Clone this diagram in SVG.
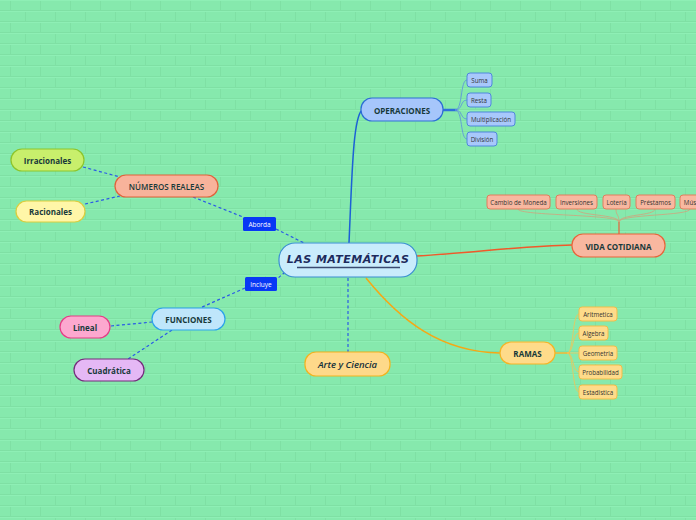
<svg xmlns="http://www.w3.org/2000/svg" width="696" height="520" viewBox="0 0 696 520">
<defs>
<pattern id="bricks" width="60" height="22" patternUnits="userSpaceOnUse">
<rect width="60" height="22" fill="#86e9ad"/>
<path d="M0 10.5H60M0 21.5H60M10.5 0V10.5M40.5 0V10.5M25.5 11V21.5M55.5 11V21.5" stroke="#7fe0a4" stroke-width="1" fill="none"/>
<path d="M0 11.5H60M0 0.5H60" stroke="#8eefb5" stroke-width="1" fill="none"/>
</pattern>
<style>
.t{font-family:"Open Sans","Liberation Sans",sans-serif;font-weight:bold;text-anchor:middle;dominant-baseline:central;fill:#17393a}
.s{font-family:"Open Sans","Liberation Sans",sans-serif;text-anchor:middle;dominant-baseline:central;fill:#333;font-size:6.2px}
.dash{fill:none;stroke:#2a5ae6;stroke-width:1.2;stroke-dasharray:3 2.5}
.lbl{fill:#0838f5}
.lt{font-family:"Open Sans","Liberation Sans",sans-serif;font-size:6.5px;fill:#fff;text-anchor:middle;dominant-baseline:central}
.op{fill:#a8c8fb;stroke:#4f88dc;stroke-width:1}
.vc{fill:#f8b8a0;stroke:#e27d5c;stroke-width:1}
.rm{fill:#fedb8a;stroke:#f2bd48;stroke-width:1}
</style>
</defs>
<rect width="696" height="520" fill="url(#bricks)"/>

<g id="connectors">
<path d="M349 243 C352 175 353 118 362 110" fill="none" stroke="#1c60d6" stroke-width="1.5"/>
<path d="M443 110 H457" fill="none" stroke="#2d6fdb" stroke-width="2.5"/>
<path d="M455 110 C463 110 460 80 467 80 M455 110 C463 110 460 100 467 100 M455 110 C463 110 460 119 467 119 M455 110 C463 110 460 139 467 139" fill="none" stroke="#5b8ee0" stroke-width="0.8"/>
<path d="M417 256 C480 252 520 246 572 245" fill="none" stroke="#f0592a" stroke-width="1.5"/>
<path d="M619 234 V222" fill="none" stroke="#e8603a" stroke-width="1.2"/>
<path d="M619 222 C619 214 518 216 518 209 M619 222 C619 214 577 216 577 209 M619 222 C619 214 616 216 616 209 M619 222 C619 214 655 216 655 209 M619 222 C619 214 690 216 690 209" fill="none" stroke="#d1a37c" stroke-width="0.8"/>
<path d="M366 278 C400 320 440 352 500 353" fill="none" stroke="#f5a815" stroke-width="1.5"/>
<path d="M555 353 H570" fill="none" stroke="#f5b530" stroke-width="1.5"/>
<path d="M567 353 C574 353 572 314 579 314 M567 353 C574 353 572 333 579 333 M567 353 C574 353 572 353 579 353 M567 353 C574 353 572 372 579 372 M567 353 C574 353 572 392 579 392" fill="none" stroke="#f1c456" stroke-width="0.8"/>
<path class="dash" d="M348 278 V352"/>
<path class="dash" d="M193 197 L243 217 M276 229 L304 243"/>
<path class="dash" d="M83 167 L120 177 M85 204 L120 196"/>
<path class="dash" d="M285 272 L277 279 M245 288 L200 308"/>
<path class="dash" d="M111 326 L152 322 M172 330 L128 359"/>
</g>

<g id="central">
<rect x="279" y="243" width="138" height="34" rx="16" fill="#c9ecfc" stroke="#3a8ed2" stroke-width="1.2"/>
<text x="348" y="259.5" class="t" style="font-family:'DejaVu Sans','Liberation Sans',sans-serif;font-style:italic;font-size:11px;fill:#1c2a5c;letter-spacing:0.5px">LAS MATEMÁTICAS</text>
<path d="M297 267.5 H400" stroke="#3a4a70" stroke-width="1.5"/>
</g>

<g id="operaciones">
<rect x="361" y="98" width="82" height="23" rx="11" fill="#a6c6fb" stroke="#2b6ed4" stroke-width="1.2"/>
<text x="402" y="110" class="t" font-size="8">OPERACIONES</text>
</g>
<g id="suma"><rect x="467" y="73" width="25" height="14" rx="3" class="op"/><text x="479.5" y="80" class="s">Suma</text></g>
<g id="resta"><rect x="467" y="93" width="24" height="14" rx="3" class="op"/><text x="479" y="100" class="s">Resta</text></g>
<g id="multiplicacion"><rect x="467" y="112" width="48" height="14" rx="3" class="op"/><text x="491" y="119" class="s">Multiplicación</text></g>
<g id="division"><rect x="467" y="132" width="30" height="14" rx="3" class="op"/><text x="482" y="139" class="s">División</text></g>

<g id="vida">
<rect x="572" y="234" width="93" height="23" rx="11" fill="#f8b7a0" stroke="#e8643a" stroke-width="1.2"/>
<text x="618.5" y="246" class="t" font-size="8">VIDA COTIDIANA</text>
</g>
<g id="cambio"><rect x="487" y="195" width="63" height="14" rx="3" class="vc"/><text x="518.5" y="202" class="s">Cambio de Moneda</text></g>
<g id="inversiones"><rect x="556" y="195" width="41" height="14" rx="3" class="vc"/><text x="576.5" y="202" class="s">Inversiones</text></g>
<g id="loteria"><rect x="603" y="195" width="27" height="14" rx="3" class="vc"/><text x="616.5" y="202" class="s">Lotería</text></g>
<g id="prestamos"><rect x="636" y="195" width="39" height="14" rx="3" class="vc"/><text x="655.5" y="202" class="s">Préstamos</text></g>
<g id="musica"><rect x="680" y="195" width="28" height="14" rx="3" class="vc"/><text x="694" y="202" class="s">Música</text></g>

<g id="ramas">
<rect x="500" y="342" width="55" height="22" rx="11" fill="#fedb8a" stroke="#f5b425" stroke-width="1.2"/>
<text x="527.5" y="353" class="t" font-size="8">RAMAS</text>
</g>
<g id="aritmetica"><rect x="579" y="307" width="38" height="14" rx="3" class="rm"/><text x="598" y="314" class="s">Aritmetica</text></g>
<g id="algebra"><rect x="579" y="326" width="29" height="14" rx="3" class="rm"/><text x="593.5" y="333" class="s">Algebra</text></g>
<g id="geometria"><rect x="579" y="346" width="38" height="14" rx="3" class="rm"/><text x="598" y="353" class="s">Geometria</text></g>
<g id="probabilidad"><rect x="579" y="365" width="43" height="14" rx="3" class="rm"/><text x="600.5" y="372" class="s">Probabilidad</text></g>
<g id="estadistica"><rect x="579" y="385" width="38" height="14" rx="3" class="rm"/><text x="598" y="392" class="s">Estadistica</text></g>

<g id="arte">
<rect x="305" y="352" width="85" height="24" rx="11" fill="#fed98a" stroke="#f2b31f" stroke-width="1.2"/>
<text x="347.5" y="364.5" class="t" style="font-style:italic;font-size:9.5px;font-weight:600;fill:#14303a">Arte y Ciencia</text>
</g>

<g id="numeros">
<rect x="115" y="175" width="103" height="22" rx="11" fill="#f8b39b" stroke="#e0623a" stroke-width="1.2"/>
<text x="166.5" y="186" class="t" font-size="8" style="font-weight:600">NÚMEROS REALEAS</text>
</g>
<g id="irracionales">
<rect x="11" y="149" width="73" height="22" rx="11" fill="#c8ef6c" stroke="#8dc52a" stroke-width="1.2"/>
<text x="47.5" y="160" class="t" font-size="8">Irracionales</text>
</g>
<g id="racionales">
<rect x="16" y="201" width="69" height="21" rx="10.5" fill="#fff6a8" stroke="#dccd3c" stroke-width="1.2"/>
<text x="50.5" y="211.5" class="t" font-size="8">Racionales</text>
</g>
<g id="aborda">
<rect x="243" y="217" width="33" height="14" rx="1.5" class="lbl"/>
<text x="259.5" y="224" class="lt">Aborda</text>
</g>

<g id="incluye">
<rect x="245" y="277" width="32" height="14" rx="1.5" class="lbl"/>
<text x="261" y="284" class="lt">Incluye</text>
</g>
<g id="funciones">
<rect x="152" y="308" width="73" height="22" rx="11" fill="#bfe6fb" stroke="#2ba2ea" stroke-width="1.2"/>
<text x="188.5" y="319" class="t" font-size="8">FUNCIONES</text>
</g>
<g id="lineal">
<rect x="60" y="316" width="50" height="22" rx="11" fill="#fca8cf" stroke="#e43d86" stroke-width="1.2"/>
<text x="85" y="327" class="t" font-size="8">Lineal</text>
</g>
<g id="cuadratica">
<rect x="74" y="359" width="70" height="22" rx="11" fill="#e5b8f5" stroke="#742c7c" stroke-width="1.2"/>
<text x="109" y="370" class="t" font-size="8">Cuadrática</text>
</g>
</svg>
